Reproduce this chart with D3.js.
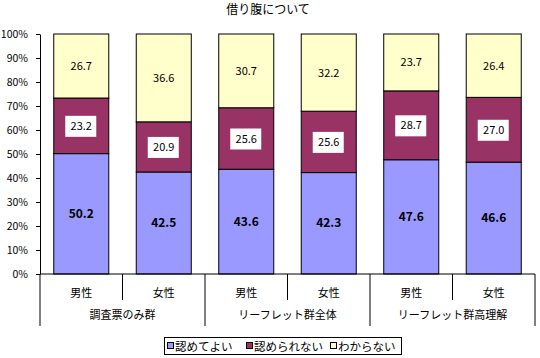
<!DOCTYPE html>
<html><head><meta charset="utf-8">
<script src="https://cdn.jsdelivr.net/npm/d3@7"></script>
<style>body{margin:0;background:#fff}svg{display:block}text{font-family:"Noto Sans CJK JP","DejaVu Sans",sans-serif;}</style>
</head><body><svg id="c" width="540" height="358"></svg>
<script>
const title = "借り腹について";
const categories = ["男性","女性","男性","女性","男性","女性"];
const groups = ["調査票のみ群","リーフレット群全体","リーフレット群高理解"];
const seriesNames = ["認めてよい","認められない","わからない"];
const seriesColors = ["#9999FF","#993366","#FFFFCC"];
const approve = [50.2,42.5,43.6,42.3,47.6,46.6];
const disapprove = [23.2,20.9,25.6,25.6,28.7,27.0];
const unknown = [26.7,36.6,30.7,32.2,23.7,26.4];
const yTicks = [0,10,20,30,40,50,60,70,80,90,100];

const svg = d3.select("#c");
const L=40, R=535, T=34, B=274;
const idx = d3.range(categories.length);
const x = d3.scaleBand().domain(idx).range([L,R]).paddingInner(0.333).paddingOuter(0.1667);
const xb = d3.scaleBand().domain(idx).range([L,R]);
const y = d3.scaleLinear().domain([0,100]).range([B,T]);
const xg = d3.scaleBand().domain(d3.range(groups.length)).range([L,R]);

svg.append("text").attr("x",268).attr("y",14).attr("text-anchor","middle").attr("font-size",12).text(title);

// y axis
const ya = svg.append("g").attr("transform",`translate(${L},0)`).call(d3.axisLeft(y).tickValues(yTicks).tickFormat(d=>d+"%").tickSize(4).tickSizeOuter(0));
ya.select(".domain").attr("stroke","#000");
ya.selectAll("text").attr("font-size",10.5).attr("font-family","'Liberation Sans',Arial,sans-serif").attr("x",-12);

const data = [approve,disapprove,unknown];
const rows = idx.map(i=>{const s=approve[i]+disapprove[i]+unknown[i];return {i, v:data.map(a=>a[i]/s*100), raw:data.map(a=>a[i])};});
rows.forEach(r=>{
  let acc=0;
  r.v.forEach((v,k)=>{
    const y0=acc, y1=acc+v; acc=y1;
    svg.append("rect").attr("x",x(r.i)).attr("width",x.bandwidth()).attr("y",y(y1)).attr("height",y(y0)-y(y1))
      .attr("fill",seriesColors[k]).attr("stroke","#000").attr("stroke-width",1);
    const cx = x(r.i)+x.bandwidth()/2, cy=(y(y0)+y(y1))/2;
    const lab = r.raw[k].toFixed(1);
    if(k===1){
      svg.append("rect").attr("x",cx-16).attr("y",cy-10).attr("width",31).attr("height",21).attr("fill","#fff");
    }
    svg.append("text").attr("x",cx).attr("y",cy+4).attr("text-anchor","middle")
      .attr("font-size",k===0?12:11).attr("font-weight",k===0?"bold":"normal")
      .attr("font-family","'Liberation Sans',Arial,sans-serif").text(lab);
  });
});

// x axis
svg.append("line").attr("x1",L).attr("x2",R).attr("y1",B).attr("y2",B).attr("stroke","#000");
idx.forEach(i=>{
  const xs = xb(i);
  const isGroup = i%2===0;
  svg.append("line").attr("x1",xs).attr("x2",xs).attr("y1",B).attr("y2",isGroup?326:300).attr("stroke","#000");
  svg.append("text").attr("x",xb(i)+xb.bandwidth()/2).attr("y",297).attr("text-anchor","middle").attr("font-size",11).text(categories[i]);
});
svg.append("line").attr("x1",R).attr("x2",R).attr("y1",B).attr("y2",326).attr("stroke","#000");
groups.forEach((g,j)=>{
  svg.append("text").attr("x",xg(j)+xg.bandwidth()/2).attr("y",319).attr("text-anchor","middle").attr("font-size",11).text(g);
});

// legend
const lg = svg.append("g");
lg.append("rect").attr("x",164.5).attr("y",337.5).attr("width",237).attr("height",17).attr("fill","#fff").attr("stroke","#000");
const lxs=[167,246,330];
seriesNames.forEach((n,k)=>{
  lg.append("rect").attr("x",lxs[k]+0.5).attr("y",342.5).attr("width",6).attr("height",6).attr("fill",seriesColors[k]).attr("stroke","#000");
  lg.append("text").attr("x",lxs[k]+8).attr("y",350.5).attr("font-size",11.5).text(n);
});
</script></body></html>
